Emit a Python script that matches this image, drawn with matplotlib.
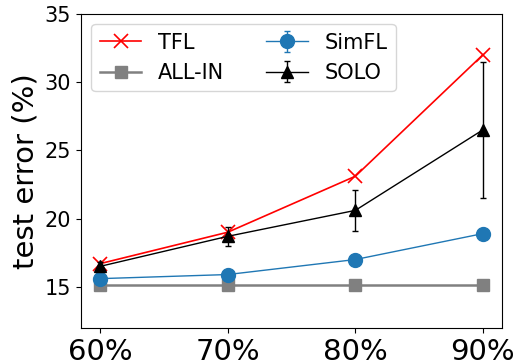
import matplotlib
matplotlib.use('Agg')
import matplotlib.pyplot as plt
import numpy as np

# data
labels = ['60%', '70%', '80%', '90%']
tfl = [16.7, 19.0, 23.1, 32.0]
allin = [15.1, 15.1, 15.1, 15.1]
simfl = [15.6, 15.9, 17.0, 18.9]
simfl_err = [0.15, 0.1, 0.1, 0.1]
solo = [16.5, 18.7, 20.6, 26.5]
solo_err = [0.3, 0.7, 1.5, 5.0]

x = np.arange(len(labels))

fig = plt.figure(figsize=(5.16, 3.63), dpi=100)
ax = fig.add_axes([0.157, 0.097, 0.816, 0.865])

ax.plot(x, tfl, color='red', marker='x', markersize=10, lw=1.2, mew=1.2, label='TFL')
ax.plot(x, allin, color='gray', marker='s', markersize=9, lw=1.8, label='ALL-IN')
ax.errorbar(x, simfl, yerr=simfl_err, color='tab:blue', marker='o', markersize=10,
            lw=1, capsize=2, label='SimFL')
ax.errorbar(x, solo, yerr=solo_err, color='black', marker='^', markersize=9,
            lw=1, capsize=2, label='SOLO')

ax.set_xticks(x)
ax.set_xticklabels(labels, fontsize=21)
ax.set_yticks([15, 20, 25, 30, 35])
ax.tick_params(axis='y', labelsize=15)
ax.set_xlim(-0.15, 3.15)
ax.set_ylim(12, 35)
ax.set_ylabel('test error (%)', fontsize=21)
ax.legend(ncol=2, loc='upper left', fontsize=15)

fig.savefig('out.png', dpi=100)
